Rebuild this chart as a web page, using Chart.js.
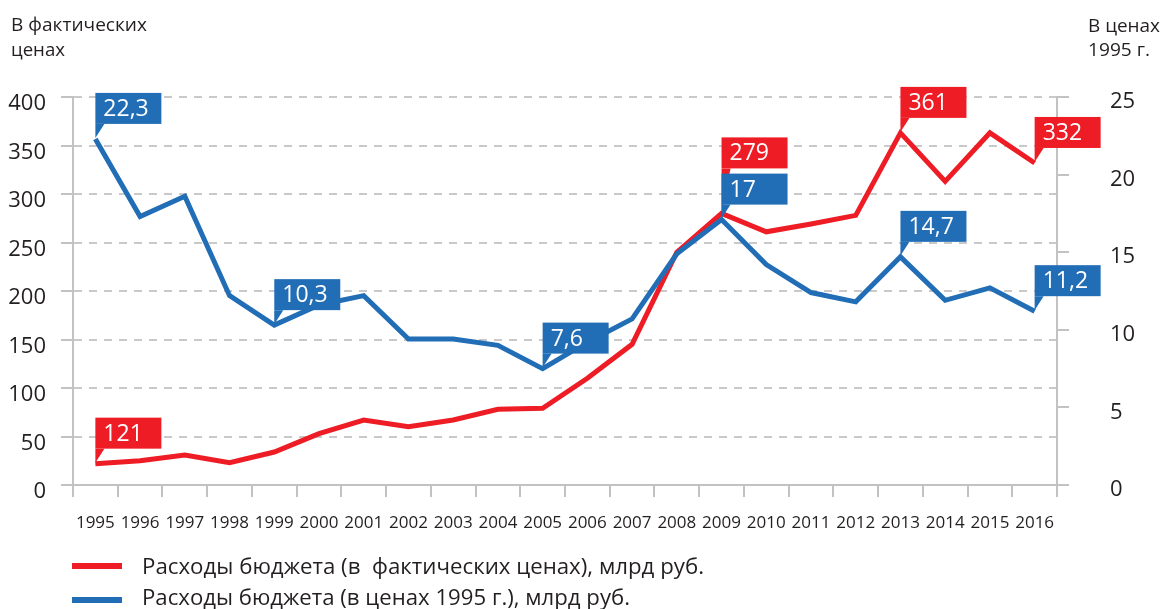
<!DOCTYPE html>
<html>
<head>
<meta charset="utf-8">
<script src="https://cdn.jsdelivr.net/npm/chart.js@4.4.1/dist/chart.umd.min.js"></script>
<style>
  html, body { margin: 0; padding: 0; background: #fff; }
  #wrap { position: relative; width: 1163px; height: 609px; }
</style>
</head>
<body>
<div id="wrap"><canvas id="c" width="1163" height="609"></canvas></div>
<script>
// ---- data ----
const years = ['1995','1996','1997','1998','1999','2000','2001','2002','2003','2004','2005',
               '2006','2007','2008','2009','2010','2011','2012','2013','2014','2015','2016'];
const nominalSpend = [22, 25, 31, 23, 34, 53, 67, 60, 67, 78, 79,
                      110, 145, 240, 280, 261, 269, 278, 363, 313, 363, 332];
const realSpend = [22.3, 17.3, 18.6, 12.2, 10.3, 11.6, 12.2, 9.4, 9.4, 9.0, 7.5,
                   9.2, 10.7, 14.9, 17.1, 14.2, 12.4, 11.8, 14.7, 11.9, 12.7, 11.2];
const leftTicks = [0, 50, 100, 150, 200, 250, 300, 350, 400];
const rightTicks = [0, 5, 10, 15, 20, 25];
const nominalLabels = [[0, '121'], [14, '279'], [18, '361'], [21, '332']];
const realLabels = [[0, '22,3'], [4, '10,3'], [10, '7,6'], [14, '17'], [18, '14,7'], [21, '11,2']];
const leftTitle = ['В фактических', 'ценах'];
const rightTitle = ['В ценах', '1995 г.'];
const seriesNames = ['Расходы бюджета (в  фактических ценах), млрд руб.',
                     'Расходы бюджета (в ценах 1995 г.), млрд руб.'];

// ---- styles ----
const RED = '#EE1C25';
const BLUE = '#216DB6';
const GRID = '#C9C9C9';
const AXIS = '#C2C2C2';
const TXT = '#231F20';
const FONT = "'Open Sans', 'Noto Sans', sans-serif";

function fitText(ctx, text, x, y, width) {
  const w = ctx.measureText(text).width;
  ctx.save();
  ctx.translate(x, y);
  ctx.scale(width / w, 1);
  ctx.fillText(text, 0, 0);
  ctx.restore();
}

const calloutPlugin = {
  id: 'callouts',
  afterDatasetsDraw(chart) {
    const ctx = chart.ctx;
    const groups = [[0, nominalLabels, RED], [1, realLabels, BLUE]];
    const lift = { '0-14': 45 };
    groups.forEach(([di, labels, color]) => {
      const meta = chart.getDatasetMeta(di);
      labels.forEach(([idx, text]) => {
        const pt = meta.data[idx];
        const x = pt.x, y = pt.y;
        const gap = lift[di + '-' + idx] || 15;
        const w = 66, h = 31;
        const bottom = y - gap;
        const top = bottom - h;
        ctx.save();
        ctx.fillStyle = color;
        ctx.beginPath();
        ctx.moveTo(x, y - 1);
        ctx.lineTo(x, bottom);
        ctx.lineTo(x + 9, bottom);
        ctx.closePath();
        ctx.fill();
        ctx.fillRect(x, top, w, h);
        ctx.fillStyle = '#ffffff';
        ctx.font = '23px ' + FONT;
        ctx.textBaseline = 'middle';
        ctx.textAlign = 'left';
        ctx.fillText(text, x + 8, top + h / 2 + 1);
        ctx.restore();
      });
    });
  }
};

const extrasPlugin = {
  id: 'extras',
  afterDraw(chart) {
    const ctx = chart.ctx;
    ctx.save();
    ctx.fillStyle = TXT;
    ctx.textAlign = 'left';
    ctx.textBaseline = 'alphabetic';
    ctx.font = '19px ' + FONT;
    fitText(ctx, leftTitle[0], 11, 31, 136);
    fitText(ctx, leftTitle[1], 11, 56, 54);
    fitText(ctx, rightTitle[0], 1088, 32, 72);
    fitText(ctx, rightTitle[1], 1088, 56, 62);
    // legend
    const items = [[RED, seriesNames[0], 566, 574, 562], [BLUE, seriesNames[1], 600, 605, 488]];
    items.forEach(([c, t, ly, ty, mw]) => {
      ctx.strokeStyle = c;
      ctx.lineWidth = 6;
      ctx.beginPath();
      ctx.moveTo(72, ly);
      ctx.lineTo(122, ly);
      ctx.stroke();
      ctx.fillStyle = TXT;
      ctx.font = '22px ' + FONT;
      fitText(ctx, t, 142, ty, mw);
    });
    ctx.restore();
  }
};

new Chart(document.getElementById('c'), {
  type: 'line',
  data: {
    labels: years,
    datasets: [
      { label: seriesNames[0], data: nominalSpend, yAxisID: 'yL', borderColor: RED, borderWidth: 5,
        pointRadius: 0, tension: 0, order: 1, fill: false },
      { label: seriesNames[1], data: realSpend, yAxisID: 'yR', borderColor: BLUE, borderWidth: 5,
        pointRadius: 0, tension: 0, order: 0, fill: false }
    ]
  },
  options: {
    responsive: false,
    animation: false,
    layout: { padding: { top: 97, left: 0, right: 0, bottom: 0 } },
    plugins: { legend: { display: false }, tooltip: { enabled: false } },
    scales: {
      x: {
        type: 'category',
        offset: true,
        grid: { offset: true, drawOnChartArea: false, drawTicks: true, tickLength: 12,
                color: AXIS, lineWidth: 2 },
        border: { display: true, color: AXIS, width: 2 },
        ticks: { autoSkip: false, maxRotation: 0, minRotation: 0, padding: 16,
                 color: TXT, font: { family: FONT, size: 17 } },
        afterFit(s) { s.height = 124; }
      },
      yL: {
        type: 'linear', position: 'left', min: 0, max: 400,
        afterBuildTicks(s) { s.ticks = leftTicks.map(v => ({ value: v })); },
        grid: {
          drawOnChartArea: true, drawTicks: true, tickLength: 12, lineWidth: 2,
          color: (c) => c.tick && c.tick.value === 0 ? 'rgba(0,0,0,0)' : GRID,
          tickColor: AXIS, tickBorderDash: [], tickWidth: 2
        },
        border: { display: true, color: AXIS, width: 2, dash: [8, 7] },
        ticks: { padding: 15, labelOffset: 7, color: TXT, font: { family: FONT, size: 22 } },
        afterFit(s) { s.width = 73; }
      },
      yR: {
        type: 'linear', position: 'right', min: 0, max: 25,
        afterBuildTicks(s) { s.ticks = rightTicks.map(v => ({ value: v })); },
        grid: { drawOnChartArea: false, drawTicks: true, tickLength: 12, lineWidth: 2, color: AXIS },
        border: { display: true, color: AXIS, width: 2 },
        ticks: { padding: 41, labelOffset: 5, color: TXT, font: { family: FONT, size: 22 } },
        afterFit(s) { s.width = 106; }
      }
    }
  },
  plugins: [calloutPlugin, extrasPlugin]
});
</script>
</body>
</html>
